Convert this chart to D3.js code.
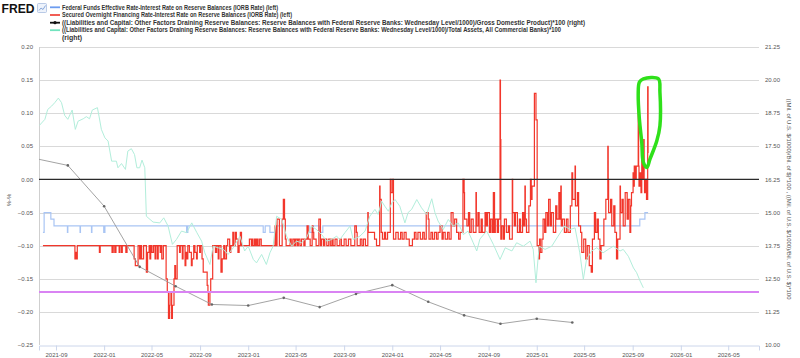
<!DOCTYPE html>
<html><head><meta charset="utf-8">
<script src="https://cdn.jsdelivr.net/npm/d3@7"></script>
<style>
body{margin:0;background:#fff}
svg{display:block}
text{font-family:"Liberation Sans",Arial,sans-serif}
</style></head>
<body><svg id="c" width="800" height="358"></svg>
<script>
// ---------- DATA ----------
const legendLabels = [
  "Federal Funds Effective Rate-Interest Rate on Reserve Balances (IORB Rate) (left)",
  "Secured Overnight Financing Rate-Interest Rate on Reserve Balances (IORB Rate) (left)",
  "((Liabilities and Capital: Other Factors Draining Reserve Balances: Reserve Balances with Federal Reserve Banks: Wednesday Level/1000)/Gross Domestic Product)*100 (right)",
  "((Liabilities and Capital: Other Factors Draining Reserve Balances: Reserve Balances with Federal Reserve Banks: Wednesday Level/1000)/Total Assets, All Commercial Banks)*100",
  "(right)"
];
const leftTicks = [0.20,0.15,0.10,0.05,0.00,-0.05,-0.10,-0.15,-0.20,-0.25];
const rightTicks = [21.25,20.00,18.75,17.50,16.25,15.00,13.75,12.50,11.25,10.00];
const xDomain = ["2021-07-20","2026-07-18"];
const leftTitle = "%-%";
const rightTitle = "((Mil. of U.S. $/1000)/Bil. of $)*100 , ((Mil. of U.S. $/1000)/Bil. of U.S. $)*100";

// EFFR - IORB (left)
const effrSpread = [
["2021-07-30",-0.08],["2021-08-02",-0.05],["2021-08-19",-0.06],["2021-08-27",-0.07],
["2021-09-30",-0.08],["2021-10-01",-0.07],["2021-11-01",-0.08],["2021-11-02",-0.07],["2021-11-30",-0.08],["2021-12-01",-0.07],["2021-12-31",-0.08],["2022-01-03",-0.07],
["2022-07-29",-0.08],["2022-08-01",-0.07],
["2023-02-08",-0.08],["2023-02-13",-0.07],["2023-02-25",-0.08],["2023-03-14",-0.07],["2023-06-06",-0.08],["2023-06-14",-0.07],["2023-07-01",-0.08],["2023-07-09",-0.07],
["2025-09-19",-0.06],["2025-10-02",-0.05],["2025-10-10",-0.05]
];

// SOFR - IORB (left)
const sofrSpread = [
["2021-07-30",-0.10],
["2021-10-19",-0.12],["2021-10-21",-0.11],["2021-10-22",-0.12],["2021-10-25",-0.10],
["2021-12-20",-0.11],["2021-12-22",-0.10],
["2022-01-21",-0.11],["2022-01-24",-0.10],["2022-01-28",-0.11],["2022-01-31",-0.10],
["2022-02-08",-0.11],["2022-02-10",-0.10],["2022-02-14",-0.11],["2022-02-16",-0.10],["2022-02-25",-0.11],["2022-02-28",-0.10],
["2022-03-18",-0.12],["2022-03-21",-0.13],["2022-03-28",-0.10],
["2022-04-01",-0.12],["2022-04-04",-0.10],["2022-04-06",-0.12],["2022-04-11",-0.10],["2022-04-18",-0.14],["2022-04-21",-0.11],["2022-04-25",-0.10],["2022-04-27",-0.12],["2022-04-29",-0.10],
["2022-05-02",-0.11],["2022-05-06",-0.10],["2022-05-10",-0.12],["2022-05-12",-0.10],["2022-05-16",-0.12],["2022-05-18",-0.10],["2022-05-23",-0.11],["2022-05-25",-0.10],["2022-05-27",-0.12],["2022-05-31",-0.10],
["2022-06-07",-0.15],["2022-06-10",-0.17],["2022-06-13",-0.21],["2022-06-16",-0.19],["2022-06-17",-0.17],["2022-06-21",-0.21],["2022-06-23",-0.19],["2022-06-27",-0.15],["2022-06-29",-0.13],
["2022-07-01",-0.15],["2022-07-05",-0.10],["2022-07-11",-0.11],["2022-07-13",-0.10],["2022-07-18",-0.12],["2022-07-20",-0.10],["2022-07-25",-0.13],["2022-07-27",-0.11],["2022-07-29",-0.12],
["2022-08-01",-0.10],["2022-08-05",-0.11],["2022-08-10",-0.13],["2022-08-12",-0.12],["2022-08-16",-0.10],["2022-08-19",-0.11],["2022-08-23",-0.12],["2022-08-25",-0.10],["2022-08-31",-0.11],
["2022-09-02",-0.10],["2022-09-06",-0.12],["2022-09-09",-0.14],["2022-09-19",-0.16],["2022-09-21",-0.17],["2022-09-22",-0.19],["2022-09-26",-0.17],["2022-09-28",-0.15],
["2022-10-03",-0.10],["2022-10-10",-0.11],["2022-10-13",-0.10],["2022-10-17",-0.12],["2022-10-19",-0.10],["2022-10-24",-0.14],["2022-10-27",-0.12],["2022-10-31",-0.10],
["2022-11-03",-0.12],["2022-11-07",-0.10],["2022-11-10",-0.09],["2022-11-15",-0.11],["2022-11-18",-0.10],["2022-11-23",-0.08],["2022-11-25",-0.10],["2022-11-29",-0.08],
["2022-12-02",-0.09],["2022-12-06",-0.11],["2022-12-09",-0.10],["2022-12-12",-0.08],["2022-12-15",-0.10],
["2023-01-04",-0.09],["2023-01-09",-0.10],["2023-01-10",-0.09],["2023-01-13",-0.10],["2023-01-17",-0.09],["2023-01-20",-0.10],["2023-01-23",-0.09],["2023-01-26",-0.10],["2023-01-30",-0.09],
["2023-02-03",-0.10],
["2023-03-10",-0.07],["2023-03-13",-0.10],["2023-03-15",-0.06],["2023-03-21",-0.10],["2023-03-28",-0.06],["2023-03-31",-0.03],["2023-04-03",-0.06],["2023-04-05",-0.09],["2023-04-07",-0.10],
["2023-04-17",-0.09],["2023-04-20",-0.10],["2023-04-24",-0.09],["2023-04-28",-0.10],["2023-05-01",-0.09],["2023-05-05",-0.10],["2023-05-08",-0.09],["2023-05-12",-0.10],["2023-05-16",-0.09],["2023-05-22",-0.10],["2023-05-25",-0.09],
["2023-05-30",-0.07],["2023-06-02",-0.09],["2023-06-07",-0.10],["2023-06-12",-0.07],["2023-06-14",-0.08],["2023-06-16",-0.09],["2023-06-22",-0.10],["2023-06-29",-0.06],["2023-07-03",-0.10],
["2023-07-06",-0.09],["2023-07-11",-0.10],["2023-07-14",-0.09],["2023-07-19",-0.10],["2023-07-24",-0.09],["2023-07-28",-0.10],["2023-08-01",-0.09],["2023-08-04",-0.10],["2023-08-09",-0.09],["2023-08-14",-0.10],["2023-08-21",-0.09],["2023-08-25",-0.10],["2023-09-01",-0.09],["2023-09-06",-0.10],["2023-09-12",-0.09],["2023-09-18",-0.10],
["2023-09-28",-0.07],["2023-10-02",-0.08],["2023-10-04",-0.10],["2023-10-12",-0.09],["2023-10-16",-0.10],["2023-10-20",-0.09],["2023-10-25",-0.10],["2023-10-31",-0.05],
["2023-11-01",-0.08],["2023-11-17",-0.09],["2023-11-22",-0.10],["2023-11-30",-0.01],["2023-12-01",-0.03],["2023-12-04",-0.08],["2023-12-07",-0.09],["2023-12-12",-0.08],["2023-12-15",-0.09],["2023-12-20",-0.08],
["2023-12-27",0.00],["2023-12-29",-0.02],["2024-01-02",0.00],["2024-01-04",-0.09],["2024-01-10",-0.08],["2024-01-16",-0.09],["2024-01-22",-0.08],["2024-01-26",-0.09],["2024-01-31",-0.08],["2024-02-05",-0.09],["2024-02-13",-0.10],["2024-02-21",-0.09],
["2024-02-26",-0.08],["2024-03-01",-0.09],["2024-03-06",-0.08],["2024-03-12",-0.09],["2024-03-18",-0.08],["2024-03-22",-0.09],["2024-03-27",-0.05],["2024-04-01",-0.06],["2024-04-03",-0.09],
["2024-04-08",-0.08],["2024-04-12",-0.09],["2024-04-17",-0.08],["2024-04-22",-0.09],["2024-04-26",-0.08],["2024-05-01",-0.07],["2024-05-06",-0.09],["2024-05-09",-0.08],["2024-05-14",-0.09],["2024-05-20",-0.08],["2024-05-24",-0.09],
["2024-05-29",-0.05],["2024-06-03",-0.07],["2024-06-07",-0.06],["2024-06-12",-0.08],["2024-06-17",-0.09],["2024-06-21",-0.08],["2024-06-28",0.00],["2024-07-01",-0.02],["2024-07-02",-0.06],["2024-07-08",-0.07],
["2024-07-12",-0.05],["2024-07-15",-0.08],["2024-07-19",-0.06],["2024-07-24",-0.08],["2024-07-31",-0.02],["2024-08-01",-0.07],["2024-08-05",-0.05],["2024-08-08",-0.08],["2024-08-13",-0.06],["2024-08-16",-0.08],["2024-08-23",-0.05],["2024-08-26",-0.07],["2024-08-29",-0.05],["2024-09-03",-0.08],["2024-09-06",-0.06],["2024-09-10",-0.08],["2024-09-13",-0.02],["2024-09-16",-0.08],["2024-09-18",-0.06],["2024-09-23",-0.08],["2024-09-26",-0.06],
["2024-09-30",0.15],["2024-10-01",0.06],["2024-10-02",-0.09],["2024-10-04",-0.07],["2024-10-08",-0.09],["2024-10-11",-0.06],["2024-10-16",-0.08],["2024-10-21",-0.07],["2024-10-24",-0.09],["2024-10-31",0.00],["2024-11-01",-0.05],
["2024-11-05",-0.07],["2024-11-08",-0.05],["2024-11-13",-0.08],["2024-11-18",-0.06],["2024-11-21",-0.08],["2024-11-26",-0.05],["2024-11-29",-0.07],["2024-12-02",-0.01],["2024-12-03",-0.06],["2024-12-06",-0.08],["2024-12-12",-0.04],["2024-12-16",0.00],["2024-12-18",-0.03],["2024-12-20",-0.01],
["2024-12-26",0.13],["2024-12-30",0.09],["2025-01-02",-0.10],["2025-01-06",-0.12],["2025-01-08",-0.09],["2025-01-10",-0.11],["2025-01-14",-0.09],
["2025-01-17",-0.06],["2025-01-21",-0.08],["2025-01-24",-0.05],["2025-01-28",-0.07],["2025-01-31",-0.03],["2025-02-04",-0.07],["2025-02-07",-0.05],["2025-02-12",-0.08],["2025-02-18",-0.04],["2025-02-21",-0.06],["2025-02-26",-0.02],["2025-02-28",-0.06],
["2025-03-03",-0.01],["2025-03-04",-0.07],["2025-03-07",-0.06],["2025-03-12",-0.08],["2025-03-17",-0.06],["2025-03-21",-0.08],["2025-03-27",-0.04],["2025-03-31",0.01],["2025-04-02",-0.03],["2025-04-08",0.02],["2025-04-09",-0.04],["2025-04-14",-0.02],["2025-04-17",-0.07],
["2025-04-22",-0.08],["2025-04-25",-0.11],["2025-04-30",-0.09],["2025-05-05",-0.12],["2025-05-09",-0.10],["2025-05-14",-0.13],["2025-05-19",-0.14],["2025-05-22",-0.09],["2025-05-27",-0.05],["2025-05-30",-0.08],["2025-06-03",-0.06],["2025-06-06",-0.09],["2025-06-10",-0.12],["2025-06-13",-0.10],
["2025-06-20",-0.06],["2025-06-25",-0.03],["2025-06-30",0.05],["2025-07-01",0.00],["2025-07-02",-0.05],["2025-07-07",-0.03],["2025-07-10",-0.07],["2025-07-15",-0.04],["2025-07-18",-0.08],["2025-07-22",-0.12],["2025-07-25",-0.09],
["2025-07-31",-0.01],["2025-08-01",-0.05],["2025-08-05",-0.03],["2025-08-08",-0.07],["2025-08-13",-0.02],["2025-08-18",-0.06],["2025-08-21",-0.03],["2025-08-25",-0.08],["2025-08-27",-0.04],["2025-08-29",-0.02],
["2025-09-02",0.01],["2025-09-04",-0.01],["2025-09-05",0.02],["2025-09-08",0.00],["2025-09-10",0.02],["2025-09-15",0.11],["2025-09-16",0.02],["2025-09-17",-0.01],["2025-09-19",0.01],["2025-09-22",-0.02],["2025-09-24",0.03],["2025-09-26",0.00],["2025-09-29",0.06],["2025-09-30",0.00],
["2025-10-01",-0.02],["2025-10-03",0.00],["2025-10-06",-0.03],["2025-10-09",0.14],["2025-10-10",0.04]
];

// Reserves / GDP *100 (right), quarterly
const reservesGdp = [
["2021-07-01",17.07],["2021-10-01",16.78],["2022-01-01",15.24],["2022-04-01",12.95],["2022-07-01",12.22],["2022-10-01",11.53],
["2023-01-01",11.49],["2023-04-01",11.78],["2023-07-01",11.43],["2023-10-01",11.93],["2024-01-01",12.26],["2024-04-01",11.63],
["2024-07-01",11.12],["2024-10-01",10.80],["2025-01-01",10.99],["2025-04-01",10.85]
];

// Reserves / Total assets of commercial banks *100 (right), weekly
const reservesAssets = [
["2021-07-21",18.29],["2021-08-04",18.52],["2021-08-11",18.89],["2021-08-21",19.02],["2021-08-29",19.15],["2021-09-07",19.32],["2021-09-15",19.15],["2021-09-23",18.67],
["2021-10-01",18.52],["2021-10-12",18.87],["2021-10-20",18.14],["2021-10-27",18.45],["2021-11-09",18.54],["2021-11-17",18.62],["2021-11-25",18.54],["2021-12-02",18.87],
["2021-12-15",18.96],["2021-12-19",18.64],["2021-12-25",18.14],["2022-01-03",17.82],["2022-01-11",17.70],["2022-01-20",16.94],["2022-02-01",16.94],["2022-02-05",16.69],
["2022-02-14",16.85],["2022-02-24",16.63],["2022-03-02",17.32],["2022-03-11",17.41],["2022-03-19",17.19],["2022-03-25",16.69],["2022-04-01",16.69],["2022-04-07",16.98],
["2022-04-14",16.69],["2022-04-18",14.86],["2022-05-05",14.64],["2022-05-22",14.61],["2022-06-01",14.80],["2022-06-12",14.49],["2022-06-23",13.80],["2022-07-03",13.98],
["2022-07-16",14.30],["2022-07-29",14.24],["2022-08-11",14.61],["2022-08-24",14.24],["2022-09-05",13.92],["2022-09-13",13.48],["2022-09-26",13.04],["2022-10-04",13.73],
["2022-10-17",13.67],["2022-10-30",13.61],["2022-11-11",13.42],["2022-11-24",13.67],["2022-12-11",14.11],["2022-12-23",13.55],["2023-01-01",13.73],["2023-01-14",13.23],
["2023-01-22",13.10],["2023-02-04",13.42],["2023-02-16",13.04],["2023-02-25",13.48],["2023-03-05",13.73],["2023-03-14",14.86],["2023-03-27",14.74],["2023-04-08",14.11],
["2023-04-21",13.73],["2023-05-03",13.92],["2023-05-16",13.86],["2023-05-29",14.05],["2023-06-10",14.49],["2023-06-23",14.36],["2023-07-06",14.17],["2023-07-19",13.92],
["2023-07-31",13.98],["2023-08-13",14.11],["2023-08-21",13.98],["2023-09-03",14.24],["2023-09-16",14.49],["2023-09-24",13.98],["2023-10-11",14.11],["2023-10-24",14.30],
["2023-11-05",14.86],["2023-11-18",15.12],["2023-11-26",14.93],["2023-12-05",15.43],["2023-12-13",15.24],["2023-12-22",15.05],["2023-12-31",15.37],["2024-01-08",15.49],
["2024-01-20",15.24],["2024-02-02",14.61],["2024-02-10",15.00],["2024-02-19",15.12],["2024-03-03",15.49],["2024-03-15",15.18],["2024-03-28",14.93],["2024-04-10",15.52],
["2024-04-18",15.00],["2024-04-26",14.68],["2024-05-09",14.36],["2024-05-22",14.74],["2024-06-03",14.49],["2024-06-16",14.61],["2024-06-29",14.17],["2024-07-11",14.30],
["2024-07-24",13.86],["2024-08-02",13.55],["2024-08-10",14.00],["2024-08-27",14.30],["2024-09-13",13.80],["2024-09-30",13.23],["2024-10-13",13.67],["2024-10-30",13.55],
["2024-11-11",13.86],["2024-11-28",13.73],["2024-12-15",13.92],["2024-12-23",13.61],["2024-12-30",12.35],["2025-01-07",13.73],["2025-01-22",13.61],["2025-02-08",13.73],
["2025-02-24",14.11],["2025-03-13",14.49],["2025-03-26",14.36],["2025-04-08",14.42],["2025-04-20",13.48],["2025-04-29",12.48],["2025-05-07",13.23],["2025-05-20",13.55],
["2025-06-02",13.67],["2025-06-18",13.48],["2025-07-01",13.61],["2025-07-14",13.73],["2025-07-31",13.55],["2025-08-08",13.61],["2025-08-21",13.35],["2025-09-03",12.91],
["2025-09-11",12.73],["2025-09-20",12.41],["2025-09-28",12.16]
];

// annotations drawn on the original (zero line, level line on right axis, hand-drawn circle)
const zeroLineLeft = 0.00;
const levelLineRight = 12.00;
const circleOutline = [
["2025-09-18",0.147],["2025-09-28",0.152],["2025-11-05",0.152],["2025-11-09",0.132],["2025-11-09",0.081],
["2025-11-01",0.058],["2025-10-15",0.031],["2025-10-07",0.018],["2025-09-28",0.026],["2025-09-24",0.056],
["2025-09-18",0.091],["2025-09-15",0.127]
];

// ---------- CHART ----------
const svg = d3.select("#c");
const L = 39, R = 759, T = 47, B = 345;
const parse = d3.timeParse("%Y-%m-%d");
const x = d3.scaleTime().domain(xDomain.map(parse)).range([L, R]);
const yL = d3.scaleLinear().domain([-0.25, 0.20]).range([B, T]);
const yR = d3.scaleLinear().domain([10, 21.25]).range([B, T]);

svg.append("defs").append("clipPath").attr("id","plot")
  .append("rect").attr("x",L).attr("y",T-10).attr("width",R-L).attr("height",B-T+10);

// grid
svg.append("g").selectAll("line").data(leftTicks.filter(v=>v>-0.25)).join("line")
  .attr("x1",L).attr("x2",R).attr("y1",d=>Math.round(yL(d))+0.5).attr("y2",d=>Math.round(yL(d))+0.5)
  .attr("stroke","#d9d9d9").attr("stroke-width",1);

// left axis line
svg.append("line").attr("x1",L+0.5).attr("x2",L+0.5).attr("y1",T).attr("y2",B)
  .attr("stroke","#cfcfcf");

// x axis
const xAxis = d3.axisBottom(x).ticks(d3.timeMonth.every(4)).tickFormat(d3.timeFormat("%Y-%m")).tickSize(5).tickPadding(2);
const gx = svg.append("g").attr("transform",`translate(0,${B+0.5})`).call(xAxis);
gx.select(".domain").attr("stroke","#ccd6eb");
gx.selectAll(".tick line").attr("stroke","#ccd6eb");
gx.selectAll("text").attr("font-size",6).attr("fill","#555").attr("font-family","Liberation Sans, Arial, sans-serif");

// left tick labels
svg.append("g").selectAll("text").data(leftTicks).join("text")
  .attr("x",33).attr("y",d=>yL(d)).attr("dy","0.35em").attr("text-anchor","end")
  .attr("font-size",6).attr("fill","#555").text(d=>d3.format(".2f")(d));
// right tick labels
svg.append("g").selectAll("text").data(rightTicks).join("text")
  .attr("x",765).attr("y",d=>yR(d)).attr("dy","0.35em").attr("text-anchor","start")
  .attr("font-size",6).attr("fill","#555").text(d=>d3.format(".2f")(d));

// axis titles
svg.append("text").attr("transform",`translate(11,200) rotate(-90)`).attr("text-anchor","middle")
  .attr("font-size",6).attr("fill","#555").text(leftTitle);
svg.append("text").attr("transform",`translate(787,199) rotate(90)`).attr("text-anchor","middle")
  .attr("font-size",6).attr("fill","#555").text(rightTitle);

// series
const plot = svg.append("g").attr("clip-path","url(#plot)");
const lineL = d3.line().x(d=>x(parse(d[0]))).y(d=>yL(d[1])).curve(d3.curveStepAfter);
const lineR = d3.line().x(d=>x(parse(d[0]))).y(d=>yR(d[1]));

plot.append("path").datum(effrSpread).attr("d",lineL).attr("fill","none")
  .attr("stroke","#a9c5f4").attr("stroke-width",1.2);
plot.append("path").datum(sofrSpread).attr("d",lineL).attr("fill","none")
  .attr("stroke","#f2362b").attr("stroke-width",1.2);
plot.append("path").datum(reservesGdp).attr("d",lineR).attr("fill","none")
  .attr("stroke","#999").attr("stroke-width",0.9);
plot.append("g").selectAll("circle").data(reservesGdp).join("circle")
  .attr("cx",d=>x(parse(d[0]))).attr("cy",d=>yR(d[1])).attr("r",1.3).attr("fill","#666");
plot.append("path").datum(reservesAssets).attr("d",lineR).attr("fill","none")
  .attr("stroke","#b2eedb").attr("stroke-width",1);

// annotations
svg.append("line").attr("x1",L).attr("x2",R).attr("y1",yL(zeroLineLeft)).attr("y2",yL(zeroLineLeft))
  .attr("stroke","#2a2a2a").attr("stroke-width",1.3);
svg.append("line").attr("x1",L).attr("x2",R).attr("y1",yR(levelLineRight)).attr("y2",yR(levelLineRight))
  .attr("stroke","#d983f3").attr("stroke-width",1.8);
svg.append("path").datum(circleOutline)
  .attr("d", d3.line().x(d=>x(parse(d[0]))).y(d=>yL(d[1])).curve(d3.curveCatmullRomClosed))
  .attr("fill","none").attr("stroke","#2fe01a").attr("stroke-width",3.5).attr("stroke-linejoin","round");

// header: FRED logo
svg.append("text").attr("x",1.5).attr("y",12.8).attr("font-size",12).attr("font-weight","bold")
  .attr("fill","#111").attr("textLength",33).attr("lengthAdjust","spacingAndGlyphs").text("FRED");
const ic = svg.append("g");
ic.append("rect").attr("x",37.5).attr("y",3.5).attr("width",9).attr("height",9).attr("rx",1)
  .attr("fill","#eef3fb").attr("stroke","#a9bedf").attr("stroke-width",0.8);
ic.append("polyline").attr("points","39,10.5 41,8 43,9.5 45.5,5.5").attr("fill","none")
  .attr("stroke","#7d9fd6").attr("stroke-width",0.9);

// legend
const swatches = [
  {c:"#6d9df0", m:false}, {c:"#f04c42", m:false}, {c:"#111", m:true}, {c:"#72e3be", m:false}, null
];
const rowY = [7.3, 15, 22.7, 30.2, 37.5];
const rowW = [216, 230, 523, 499, 20];
legendLabels.forEach((t,i)=>{
  const s = swatches[i];
  if (s) {
    svg.append("line").attr("x1",50).attr("x2",60).attr("y1",rowY[i]).attr("y2",rowY[i])
      .attr("stroke",s.c).attr("stroke-width",1.8);
    if (s.m) svg.append("circle").attr("cx",55).attr("cy",rowY[i]).attr("r",1.6).attr("fill",s.c);
  }
  svg.append("text").attr("x",62).attr("y",rowY[i]).attr("dy","0.35em")
    .attr("font-size",6.3).attr("font-weight","bold").attr("fill","#333")
    .attr("textLength",rowW[i]).attr("lengthAdjust","spacingAndGlyphs").text(t);
});
</script>
</body></html>
